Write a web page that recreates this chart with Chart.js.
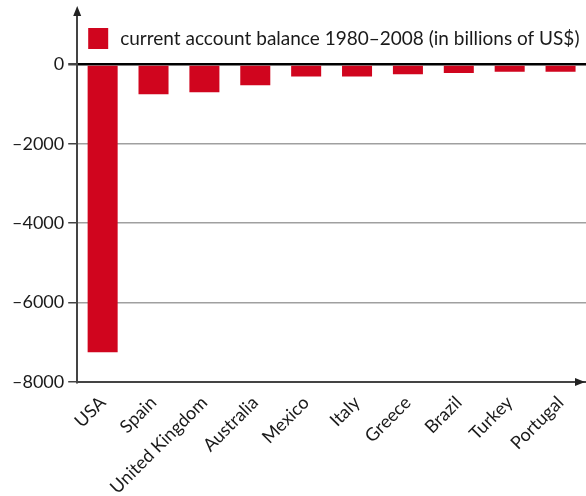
<!DOCTYPE html>
<html>
<head>
<meta charset="utf-8">
<script src="https://cdn.jsdelivr.net/npm/chart.js@4"></script>
<style>
  html, body { margin: 0; padding: 0; background: #fff; }
  #wrap { width: 586px; height: 496px; }
</style>
</head>
<body>
<div id="wrap"><canvas id="myChart"></canvas></div>
<script>
// Datos
var paises = ['USA', 'Spain', 'United Kingdom', 'Australia', 'Mexico', 'Italy', 'Greece', 'Brazil', 'Turkey', 'Portugal'];
var balance = [-7250, -750, -700, -525, -305, -305, -250, -215, -185, -185];
var serieNombre = 'current account balance 1980–2008 (in billions of US$)';
var yTicks = [0, -2000, -4000, -6000, -8000];

var fuente = 'Lato, "Open Sans", sans-serif';

// flechas en los ejes y leyenda dentro del área
var extras = {
  id: 'extras',
  afterDraw: function (chart) {
    var ctx = chart.ctx;
    var area = chart.chartArea;
    var x0 = chart.scales.x.left;
    var yb = chart.scales.y.getPixelForValue(-8000);
    ctx.save();
    ctx.fillStyle = '#222';
    ctx.strokeStyle = '#444';
    ctx.lineWidth = 2;
    // eje y hasta arriba
    ctx.beginPath();
    ctx.moveTo(x0, area.top);
    ctx.lineTo(x0, 12);
    ctx.stroke();
    ctx.beginPath();
    ctx.moveTo(x0, 6);
    ctx.lineTo(x0 - 4, 16);
    ctx.lineTo(x0 + 4, 16);
    ctx.closePath();
    ctx.fill();
    // eje x
    var xr = chart.width - 1;
    ctx.beginPath();
    ctx.moveTo(xr, yb);
    ctx.lineTo(xr - 10, yb - 4);
    ctx.lineTo(xr - 10, yb + 4);
    ctx.closePath();
    ctx.fill();
    // leyenda
    var ds = chart.data.datasets[0];
    ctx.fillStyle = ds.backgroundColor;
    ctx.fillRect(x0 + 11, 28, 20, 21);
    ctx.fillStyle = '#1a1a1a';
    ctx.font = '19px ' + fuente;
    ctx.textBaseline = 'middle';
    ctx.fillText(ds.label, x0 + 43, 39);
    ctx.restore();
  }
};

var ctx = document.getElementById('myChart').getContext('2d');
var myChart = new Chart(ctx, {
  type: 'bar',
  data: {
    labels: paises,
    datasets: [{
      label: serieNombre,
      data: balance,
      backgroundColor: '#d0051e',
      borderWidth: 0,
      barPercentage: 0.59,
      categoryPercentage: 1
    }]
  },
  options: {
    responsive: true,
    maintainAspectRatio: false,
    animation: false,
    layout: { padding: { left: 8, right: 0, top: 0, bottom: 0 } },
    plugins: {
      legend: { display: false },
      tooltip: { enabled: false }
    },
    scales: {
      x: {
        grid: { display: false },
        border: { display: true, color: '#444', width: 2 },
        afterFit: function (axis) { axis.height = 114; },
        ticks: {
          color: '#1a1a1a',
          font: { family: fuente, size: 18 },
          minRotation: 45,
          maxRotation: 45,
          padding: 2
        }
      },
      y: {
        min: -8000,
        max: 1250,
        afterBuildTicks: function (axis) {
          axis.ticks = yTicks.map(function (v) { return { value: v }; });
        },
        grid: {
          color: function (c) { return c.tick && c.tick.value === 0 ? '#000' : '#a0a0a0'; },
          lineWidth: function (c) { return c.tick && c.tick.value === 0 ? 2.5 : 1.5; },
          tickColor: '#444',
          tickLength: 9
        },
        border: { display: true, color: '#444', width: 2 },
        ticks: {
          color: '#1a1a1a',
          font: { family: fuente, size: 18 },
          padding: 4,
          callback: function (v) { return String(v).replace('-', '–'); }
        }
      }
    }
  },
  plugins: [extras]
});
</script>
</body>
</html>
